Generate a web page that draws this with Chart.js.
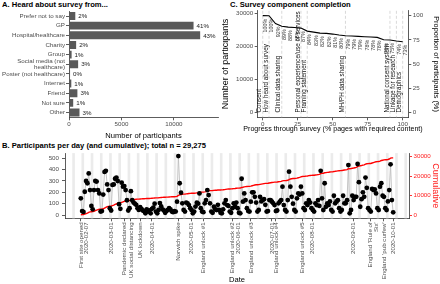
<!DOCTYPE html>
<html>
<head>
<meta charset="utf-8">
<script src="https://cdn.jsdelivr.net/npm/chart.js@4.4.0/dist/chart.umd.min.js"></script>
<style>
  html, body { margin: 0; padding: 0; background: #fff; }
  #wrap { position: relative; width: 440px; height: 284px; overflow: hidden; }
  canvas { position: absolute; }
  .ptitle { position: absolute; font-family: 'Liberation Sans', Arial, sans-serif; font-weight: bold; font-size: 7.6px; line-height: 9px; color: #000; white-space: nowrap; }
</style>
</head>
<body>
<div id="wrap">
  <div class="ptitle" style="left:2px;top:0px">A. Heard about survey from...</div>
  <div class="ptitle" style="left:230px;top:0px">C. Survey component completion</div>
  <div class="ptitle" style="left:2px;top:140.5px">B. Participants per day (and cumulative); total n = 29,275</div>
  <canvas id="panelA" width="222" height="140" style="left:0;top:0;width:222px;height:140px"></canvas>
  <canvas id="panelC" width="218" height="140" style="left:222px;top:0;width:218px;height:140px"></canvas>
  <canvas id="panelB" width="440" height="144" style="left:0;top:140px;width:440px;height:144px"></canvas>
</div>
<script>
// ---- A: where people heard about the survey
var sources = ['Prefer not to say', 'GP', 'Hospital/healthcare', 'Charity', 'Group',
  ['Social media (not', 'healthcare)'], 'Poster (not healthcare)', 'Internet', 'Friend', 'Not sure', 'Other'];
var sourceCounts = [600, 11870, 12500, 680, 250, 870, 100, 220, 800, 400, 1000];
var sourcePct = ['2%', '41%', '43%', '2%', '1%', '3%', '0%', '1%', '3%', '1%', '3%'];

// ---- C: completion of each survey page
var totalN = 29275;
var pageProgress = [0, 4.5, 9.1, 13.6, 18.2, 22.7, 27.3, 31.8, 36.4, 40.9, 45.5, 50, 54.5, 59.1, 63.6, 68.2, 72.7, 77.3, 81.8, 86.4, 90.9, 95.5, 100];
var pageCounts = [29275, 29240, 26900, 26050, 25800, 25700, 25500, 24600, 24300, 24000, 23900, 23700, 23400, 23200, 23100, 23000, 22900, 22800, 22700, 22000, 21900, 21600, 21400];
var sectionNames = ['Consent', 'How heard about survey', 'Clinical data sharing', 'Personal experience/use of services',
  'Framing statement', 'MH/PH data sharing', 'National consent system', 'Linkage for research', 'Demographics'];
var sectionAt = [0, 4.5, 13.6, 27.3, 31.8, 59.1, 90.9, 95.5, 100];

// ---- B: participants per day from the first site opening
var startDate = '2020-02-07';
var perDay = [
  147, 35, 27, 205, 300, 280, 367,
  220, 80, 50, 220, 300, 295, 220,
  190, 30, 35, 180, 380, 390, 270,
  220, 60, 40, 265, 270, 320, 330,
  300, 95, 55, 285, 250, 255, 220,
  130, 40, 60, 210, 130, 110, 100,
  90, 60, 45, 70, 55, 40, 35,
  15, 50, 30, 40, 15, 55, 65,
  100, 30, 15, 45, 105, 75, 50,
  40, 20, 35, 45, 60, 50, 30,
  25, 35, 30, 118, 520, 280, 197,
  103, 45, 30, 110, 103, 88, 60,
  44, 15, 30, 74, 109, 100, 190,
  60, 30, 25, 103, 132, 220, 176,
  103, 30, 20, 73, 50, 44, 90,
  44, 20, 15, 50, 103, 132, 88,
  80, 30, 20, 60, 103, 73, 110,
  60, 20, 15, 320, 118, 190, 132,
  60, 35, 30, 118, 200, 200, 160,
  110, 30, 44, 160, 120, 132, 140,
  90, 30, 35, 132, 132, 118, 103,
  88, 35, 40, 103, 118, 132, 250,
  88, 44, 30, 132, 382, 250, 160,
  100, 44, 30, 147, 190, 180, 250,
  190, 60, 44, 103, 88, 132, 110,
  60, 44, 30, 103, 88, 132, 80,
  390, 147, 44, 280, 73, 103, 88,
  120, 44, 30, 170, 103, 120, 130,
  60, 30, 44, 170, 103, 103, 130,
  440, 15, 44, 170, 132, 160, 160,
  450, 290, 73, 140, 200, 160, 330,
  240, 60, 44, 30, 230, 220, 226,
  190, 60, 44, 250, 280, 170, 160,
  60, 44, 120, 220, 447, 132, 24
];
var eventDates = ['2020-02-07', '2020-03-01', '2020-03-11', '2020-03-16', '2020-03-23', '2020-04-01', '2020-04-21',
  '2020-05-01', '2020-05-10', '2020-06-01', '2020-06-15', '2020-07-01', '2020-07-04', '2020-07-24', '2020-08-01',
  '2020-09-01', '2020-09-14', '2020-09-24', '2020-10-01'];
var eventLabels = [['First site opened', '2020-02-07'], '2020-03-01', 'Pandemic declared', 'UK social distancing',
  'UK lockdown', '2020-04-01', 'Norwich spike', '2020-05-01', 'England unlock #1', ['England unlock #2', '2020-06-01'],
  'England unlock #3', '2020-07-01', 'England unlock #4', 'England unlock #5', '2020-08-01', '2020-09-01',
  ["England 'Rule of", "Six'"], "England 'pub curfew'", '2020-10-01'];

var F = "'Liberation Sans', Arial, Helvetica, sans-serif";
Chart.defaults.font.family = F;
Chart.defaults.font.size = 6.2;
Chart.defaults.color = '#4d4d4d';
Chart.defaults.animation = false;

var tickGrid = { display: true, drawOnChartArea: false, drawTicks: true, tickLength: 3, color: '#333', lineWidth: 0.8 };
var axisBorder = { display: true, color: '#333', width: 0.8 };
var noPlugins = { legend: { display: false }, tooltip: { enabled: false } };
function fixedTicks(vals) {
  return function(s) { s.ticks = vals.map(function(v) { return { value: v }; }); };
}
function plain(v) { return String(v); }

// ---------- panel A
var barPctLabels = {
  id: 'barPctLabels',
  afterDatasetsDraw: function(chart) {
    var ctx = chart.ctx, meta = chart.getDatasetMeta(0);
    ctx.save();
    ctx.font = '6.2px ' + F;
    ctx.fillStyle = '#1a1a1a';
    ctx.textAlign = 'left';
    ctx.textBaseline = 'middle';
    meta.data.forEach(function(bar, i) { ctx.fillText(sourcePct[i], bar.x + 3, bar.y + 0.5); });
    ctx.restore();
  }
};

new Chart(document.getElementById('panelA'), {
  type: 'bar',
  data: { labels: sources, datasets: [{ data: sourceCounts, backgroundColor: '#595959', categoryPercentage: 1, barPercentage: 0.82 }] },
  options: {
    indexAxis: 'y', responsive: false,
    layout: { padding: { top: 11.2, right: 4, left: 0, bottom: 0 } },
    plugins: noPlugins,
    scales: {
      x: {
        min: 0, max: 14200, afterBuildTicks: fixedTicks([0, 5000, 10000]),
        afterFit: function(s) { s.height = 22.7; },
        grid: tickGrid, border: axisBorder,
        ticks: { padding: 0.5, callback: plain },
        title: { display: true, text: 'Number of participants', color: '#000', font: { size: 7.6, lineHeight: 1 }, padding: 0 }
      },
      y: {
        afterFit: function(s) { s.width = 69; },
        grid: Object.assign({}, tickGrid, { offset: false }), border: axisBorder,
        ticks: { padding: 1, autoSkip: false, font: { lineHeight: 1 } }
      }
    }
  },
  plugins: [barPctLabels]
});

// ---------- panel C
var progressTitle = 'Progress through survey (% pages with required content)';
var pageMarks = {
  id: 'pageMarks',
  beforeDatasetsDraw: function(chart) {
    var ctx = chart.ctx, xs = chart.scales.x, a = chart.chartArea;
    ctx.save();
    ctx.strokeStyle = '#cfcfcf';
    ctx.lineWidth = 0.8;
    ctx.setLineDash([3, 2]);
    sectionAt.forEach(function(p) {
      var x = xs.getPixelForValue(p);
      ctx.beginPath(); ctx.moveTo(x, a.top); ctx.lineTo(x, a.bottom); ctx.stroke();
    });
    ctx.restore();
  },
  afterDatasetsDraw: function(chart) {
    var ctx = chart.ctx, xs = chart.scales.x, ys = chart.scales.y, a = chart.chartArea;
    ctx.save();
    ctx.font = '5.4px ' + F;
    ctx.fillStyle = '#3a3a3a';
    ctx.textAlign = 'right';
    ctx.textBaseline = 'top';
    pageCounts.forEach(function(n, i) {
      ctx.save();
      ctx.translate(xs.getPixelForValue(pageProgress[i]), ys.getPixelForValue(n) + 3);
      ctx.rotate(-Math.PI / 2);
      ctx.fillText(Math.round(n / totalN * 100) + '%', 0, 0);
      ctx.restore();
    });
    ctx.font = '6.3px ' + F;
    ctx.fillStyle = '#111';
    ctx.textAlign = 'left';
    ctx.textBaseline = 'bottom';
    sectionNames.forEach(function(name, i) {
      ctx.save();
      ctx.translate(xs.getPixelForValue(sectionAt[i]), ys.getPixelForValue(0));
      ctx.rotate(-Math.PI / 2);
      ctx.fillText(name, 0, 0);
      ctx.restore();
    });
    // x axis title drawn here so it may run wider than the plot
    ctx.font = '7.1px ' + F;
    ctx.fillStyle = '#000';
    ctx.textAlign = 'center';
    ctx.textBaseline = 'middle';
    ctx.fillText(progressTitle, (a.left + a.right) / 2, a.bottom + 11.3);
    ctx.restore();
  }
};

new Chart(document.getElementById('panelC'), {
  type: 'line',
  data: { datasets: [{
    data: pageProgress.map(function(p, i) { return { x: p, y: pageCounts[i] }; }),
    borderColor: '#000', borderWidth: 1.1, pointRadius: 0, tension: 0
  }] },
  options: {
    responsive: false,
    layout: { padding: { top: 10.8, bottom: 7, left: 0, right: 0 } },
    plugins: noPlugins,
    scales: {
      x: {
        type: 'linear', min: -3.6, max: 104, afterBuildTicks: fixedTicks([0, 25, 50, 75, 100]),
        afterFit: function(s) { s.height = 15.7; },
        grid: tickGrid, border: axisBorder, ticks: { padding: 0, callback: plain }
      },
      y: {
        min: -1464, max: 30739, afterBuildTicks: fixedTicks([0, 10000, 20000, 30000]),
        afterFit: function(s) { s.width = 35.7; },
        grid: tickGrid, border: axisBorder, ticks: { padding: 1.5, callback: plain },
        title: { display: true, text: 'Number of participants', color: '#000', font: { size: 9, lineHeight: 1 }, padding: { top: -0.8, bottom: 0 } }
      },
      y2: {
        position: 'right', min: -1464 / totalN * 100, max: 30739 / totalN * 100,
        afterBuildTicks: fixedTicks([0, 25, 50, 75, 100]),
        afterFit: function(s) { s.width = 31.7; },
        grid: tickGrid, border: axisBorder, ticks: { padding: 1.5, callback: plain },
        title: { display: true, text: 'Proportion of participants (%)', color: '#000', font: { size: 7.4, lineHeight: 1 }, padding: 0 }
      }
    }
  },
  plugins: [pageMarks]
});

// ---------- panel B
var dayMs = 86400000;
var t0 = Date.parse(startDate);
function dayOf(s) { return Math.round((Date.parse(s) - t0) / dayMs); }
var cumulative = [];
var running = 0;
perDay.forEach(function(v) { running += v; cumulative.push(running); });
var dailyPts = perDay.map(function(v, i) { return { x: i, y: v }; });
var cumPts = cumulative.map(function(v, i) { return { x: i, y: v }; });

var weekendBands = {
  id: 'weekendBands',
  beforeDatasetsDraw: function(chart) {
    var ctx = chart.ctx, xs = chart.scales.x, a = chart.chartArea;
    ctx.save();
    ctx.fillStyle = '#ebebeb';
    for (var d = Math.ceil(xs.min); d <= xs.max; d++) {
      if (new Date(t0 + d * dayMs).getUTCDay() === 6) {
        var x1 = xs.getPixelForValue(d - 0.5), x2 = xs.getPixelForValue(d + 1.5);
        ctx.fillRect(x1, a.top, x2 - x1, a.bottom - a.top);
      }
    }
    ctx.restore();
  }
};

new Chart(document.getElementById('panelB'), {
  type: 'line',
  data: { datasets: [
    { data: dailyPts, showLine: false, pointRadius: 2.4, pointBackgroundColor: '#000', pointBorderWidth: 0, order: 0 },
    { data: cumPts, yAxisID: 'y2', borderColor: '#ff0000', borderWidth: 1.4, pointRadius: 0, order: 1 },
    { data: dailyPts, borderColor: '#bdbdbd', borderWidth: 0.9, pointRadius: 0, order: 2 }
  ] },
  options: {
    responsive: false,
    layout: { padding: { top: 13.1, left: 0, right: 0, bottom: 0 } },
    plugins: noPlugins,
    scales: {
      x: {
        type: 'linear', min: -12, max: 249,
        afterBuildTicks: function(s) { s.ticks = eventDates.map(function(d) { return { value: dayOf(d) }; }); },
        afterFit: function(s) { s.height = 65.7; },
        grid: tickGrid, border: axisBorder,
        ticks: {
          autoSkip: false, minRotation: 90, maxRotation: 90, padding: 1,
          font: { size: 6.2, lineHeight: 0.9 },
          callback: function(v, i) { return eventLabels[i]; }
        },
        title: { display: true, text: 'Date', color: '#000', font: { size: 7.6, lineHeight: 1 }, padding: 0 }
      },
      y: {
        min: -29, max: 546, afterBuildTicks: fixedTicks([0, 100, 200, 300, 400, 500]),
        afterFit: function(s) { s.width = 65; },
        grid: tickGrid, border: axisBorder, ticks: { padding: 3, callback: plain }
      },
      y2: {
        position: 'right', min: -1692, max: 31744, afterBuildTicks: fixedTicks([0, 10000, 20000, 30000]),
        afterFit: function(s) { s.width = 31; },
        grid: Object.assign({}, tickGrid, { color: '#ff0000' }), border: axisBorder,
        ticks: { padding: 1.5, color: '#ff2020', callback: plain },
        title: { display: true, text: 'Cumulative', color: '#ff2020', font: { size: 9, lineHeight: 1 }, padding: { top: 0, bottom: -0.5 } }
      }
    }
  },
  plugins: [weekendBands]
});
</script>
</body>
</html>
